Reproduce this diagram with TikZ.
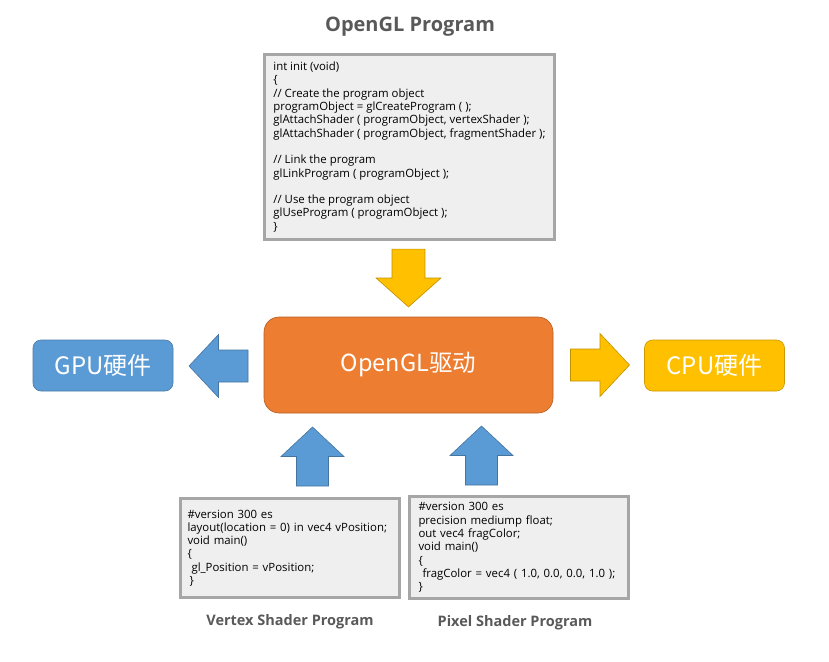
\documentclass[tikz,border=0pt]{standalone}
\usepackage{fontspec}
\setmainfont{Open Sans}
\newfontfamily\cjk{Noto Sans CJK SC}
\usetikzlibrary{positioning}
\definecolor{corange}{HTML}{ED7D31}
\definecolor{cblue}{HTML}{5B9BD5}
\definecolor{cyellow}{HTML}{FFC000}
\definecolor{cgrey}{HTML}{A6A6A6}
\definecolor{cpaper}{HTML}{EFEFEF}
\definecolor{ctitle}{HTML}{595959}
\tikzset{
  codebox/.style={draw=cgrey, fill=cpaper, line width=3pt, align=left, anchor=north west,
    inner xsep=#1, inner ysep=0pt, font=\fontsize{11.4}{13.3}\selectfont},
  codebox/.default=10pt,
  hwbox/.style={draw=#1!80!black, fill=#1, rounded corners=8pt, text=white, line width=0.6pt,
    font=\cjk\fontsize{24}{27}\selectfont, minimum width=140pt, minimum height=51pt},
  bigarrow/.style={draw=#1!75!black, fill=#1, line width=0.6pt},
  pics/blockarrow/.style={code={
    \path[pic actions] (-29.5,-16) -- (0,-16) -- (0,-31.5) -- (29.5,0)
      -- (0,31.5) -- (0,16) -- (-29.5,16) -- cycle;
  }},
  title/.style={font=\bfseries\fontsize{20}{24}\selectfont, text=ctitle},
  caption/.style={font=\bfseries\fontsize{14.5}{17}\selectfont, text=ctitle},
}

\begin{document}
\begin{tikzpicture}[x=1pt, y=-1pt]
  \useasboundingbox (0,0) rectangle (829,661);
  \node[title] (progtitle) at (410,27) {OpenGL Program};
  \node[codebox=6pt, minimum width=290pt, minimum height=185pt] (prog) at (263,53) {%
    int init (void)\\
    \{\\
    // Create the program object\\
    programObject = glCreateProgram ( );\\
    glAttachShader ( programObject, vertexShader );\\
    glAttachShader ( programObject, fragmentShader );\\[13.3pt]
    // Link the program\\
    glLinkProgram ( programObject );\\[13.3pt]
    // Use the program object\\
    glUseProgram ( programObject );\\
    \}};

  \node[draw=corange!75!black, fill=corange, line width=0.6pt, rounded corners=15pt,
    minimum width=289pt, minimum height=96pt, text=white,
    font=\cjk\fontsize{23.5}{27}\selectfont] (driver) at (408.5,365) {OpenGL驱动};
  \node[hwbox=cblue] (gpu) at (103,365.5) {GPU硬件};
  \node[hwbox=cyellow] (cpu) at (714.5,365.5) {CPU硬件};

  % block arrows between the boxes
  \pic[bigarrow=cyellow, rotate=-90, xscale=0.98, yscale=1.03] (progarrow) at (408.5,278) {blockarrow};
  \pic[bigarrow=cblue, rotate=180] (gpuarrow) at (218.5,366) {blockarrow};
  \pic[bigarrow=cyellow] (cpuarrow) at (600,365) {blockarrow};
  \pic[bigarrow=cblue, rotate=90] (vsarrow) at (312.5,456.5) {blockarrow};
  \pic[bigarrow=cblue, rotate=90] (psarrow) at (481.5,455.5) {blockarrow};

  \node[codebox=7pt, text width=205pt, minimum height=99pt] (vs) at (179,497) {%
    \#version 300 es\\
    layout(location = 0) in vec4 vPosition;\\
    void main()\\
    \{\\
    \hspace{4pt}gl\_Position = vPosition;\\
    \hspace{2pt}\}};
  \node[codebox=9pt, text width=201pt, minimum height=102pt] (ps) at (408,495) {%
    \#version 300 es\\
    precision mediump float;\\
    out vec4 fragColor;\\
    void main()\\
    \{\\
    \hspace{4pt}fragColor = vec4 ( 1.0, 0.0, 0.0, 1.0 );\\
    \}};
  \node[caption] (vstitle) at (290,622) {Vertex Shader Program};
  \node[caption] (pstitle) at (515,623) {Pixel Shader Program};
\end{tikzpicture}
\end{document}
